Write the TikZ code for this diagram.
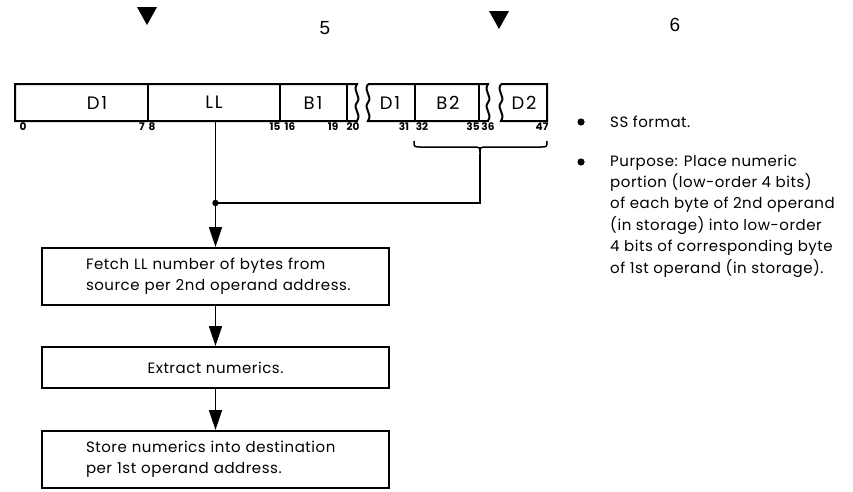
\documentclass[tikz,border=0pt]{standalone}
\usepackage{fontspec}
\setmainfont{Poppins}
\newfontfamily\pagenumfont{Liberation Sans}
\usetikzlibrary{arrows.meta}

% S-shaped break marks on the instruction format bar
\newcommand\brkdown[1]{.. controls ({#1-5},92) and ({#1+5},96) .. (#1,102.5) .. controls ({#1-5},109) and ({#1+5},113) .. (#1,121)}
\newcommand\brkup[1]{.. controls ({#1+5},113) and ({#1-5},109) .. (#1,102.5) .. controls ({#1+5},96) and ({#1-5},92) .. (#1,84)}

\begin{document}
\begin{tikzpicture}[x=1pt,y=-1pt,
  reg/.style={line width=2pt, line join=miter},
  div/.style={line width=1.3pt},
  flowbox/.style={draw, line width=2pt, minimum width=347pt, inner ysep=0pt},
  link/.style={line width=1.5pt},
  arr/.style={link, -{Triangle[width=13pt,length=20pt]}},
  boxtxt/.style={font=\fontsize{15}{21}\selectfont\addfontfeatures{LetterSpace=3.5}},
  regtxt/.style={font=\fontsize{18}{18}\selectfont\addfontfeatures{LetterSpace=10}, inner sep=0pt},
  bit/.style={font=\bfseries\fontsize{10.5}{10.5}\selectfont, inner sep=0pt},
  note/.style={font=\fontsize{15}{21.4}\selectfont\addfontfeatures{LetterSpace=3.5}, align=left, inner sep=0pt, anchor=base west},
  pagenum/.style={font=\pagenumfont\fontsize{19}{19}\selectfont, inner sep=0pt},
]
\useasboundingbox (0,0) rectangle (853,491);

% page markers
\fill (137,7) -- (157,7) -- (147,25) -- cycle;
\fill (489,11) -- (509,11) -- (499,29) -- cycle;
\node[pagenum] (p5) at (325,28) {5};
\node[pagenum] (p6) at (675,25) {6};

% SS instruction format
\draw[reg] (15,84) -- (357,84) \brkdown{357} -- (15,121) -- cycle;
\draw[div] (148,84) -- (148,121);
\draw[div] (280,84) -- (280,121);
\draw[div] (347,84) -- (347,121);
\draw[reg] (368,84) -- (488,84) \brkdown{488} -- (368,121) \brkup{368};
\draw[div] (415,84) -- (415,121);
\draw[div] (479,84) -- (479,121);
\draw[reg] (501,84) -- (547,84) -- (547,121) -- (501,121) \brkup{501};

\node[regtxt] (fd1) at (97,102.5) {D1};
\node[regtxt] (fll) at (214,102.5) {LL};
\node[regtxt] (fb1) at (313,102.5) {B1};
\node[regtxt] (fd1b) at (390,102.5) {D1};
\node[regtxt] (fb2) at (448,102.5) {B2};
\node[regtxt] (fd2) at (524,102.5) {D2};

\node[bit] (b0)  at (23,127) {0};
\node[bit] (b7)  at (142,127) {7};
\node[bit] (b8)  at (152,127) {8};
\node[bit] (b15) at (275,127) {15};
\node[bit] (b16) at (290,127) {16};
\node[bit] (b19) at (333,127) {19};
\node[bit] (b20) at (353,127) {20};
\node[bit] (b31) at (404,127) {31};
\node[bit] (b32) at (422,127) {32};
\node[bit] (b35) at (473,127) {35};
\node[bit] (b36) at (488,127) {36};
\node[bit] (b47) at (542,127) {47};

% brace under B2 and D2
\draw[link] (414,141) .. controls (414,147) .. (421,147) -- (473,147)
  .. controls (480,147) .. (480,154) .. controls (480,147) .. (487,147)
  -- (540,147) .. controls (547,147) .. (547,141);
\coordinate (btip) at (480,154);

% flowchart
\node[flowbox, boxtxt, minimum height=57pt, align=left, text width=259pt, inner xsep=44pt] (fetch) at (215.5,276.5)
  {\mbox{Fetch LL number of bytes from}\\\mbox{source per 2nd operand address.}};
\node[flowbox, boxtxt, minimum height=41pt] (extract) at (215.5,367.5) {Extract numerics.};
\node[flowbox, boxtxt, minimum height=57pt, align=left, text width=259pt, inner xsep=44pt] (store) at (215.5,459.5)
  {\mbox{Store numerics into destination}\\\mbox{per 1st operand address.}};

\coordinate (llbot) at (fetch.north |- 0,121);
\coordinate (jn) at (fetch.north |- 0,203);
\draw[link] (llbot) -- (jn);
\draw[link] (btip) -- (btip |- jn) -- (jn);
\fill (jn) circle (3.2);
\draw[arr] (jn) -- (fetch.north);
\draw[arr] (fetch) -- (extract);
\draw[arr] (extract) -- (store);

% notes
\fill (581,122) circle (3.6);
\fill (581,162) circle (3.6);
\node[note] (n1) at (610,127) {SS format.};
\node[note] (n2) at (610,273) {Purpose: Place numeric\\portion (low-order 4 bits)\\of each byte of 2nd operand\\(in storage) into low-order\\4 bits of corresponding byte\\of 1st operand (in storage).};
\end{tikzpicture}
\end{document}
